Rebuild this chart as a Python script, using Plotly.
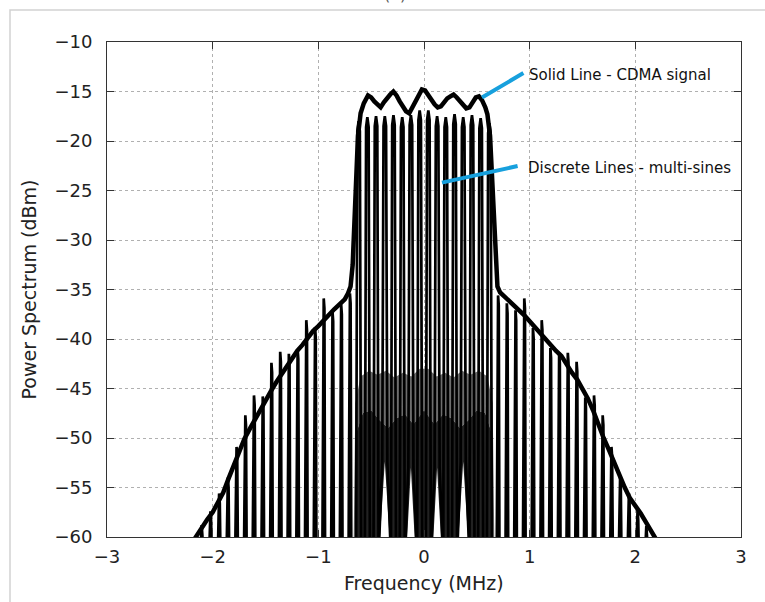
import plotly.graph_objects as go

# ---------------- data ----------------
# Solid line: CDMA signal spectrum
cdma_freq = [-2.25, -2.15, -2.10, -2.05, -2.00, -1.95, -1.90, -1.85, -1.80, -1.75,
             -1.70, -1.65, -1.60, -1.55, -1.50, -1.45, -1.40, -1.35, -1.30, -1.25,
             -1.20, -1.15, -1.10, -1.05, -1.00, -0.95, -0.90, -0.85, -0.80, -0.75,
             -0.72, -0.695, -0.675, -0.66, -0.645, -0.625, -0.60, -0.57, -0.53, -0.50,
             -0.47, -0.44, -0.41, -0.38, -0.35, -0.32, -0.29, -0.26, -0.23, -0.20,
             -0.17, -0.14, -0.11, -0.08, -0.05, -0.02, 0.01, 0.04, 0.07, 0.10,
             0.13, 0.16, 0.19, 0.22, 0.25, 0.28, 0.31, 0.34, 0.37, 0.40,
             0.43, 0.46, 0.49, 0.52, 0.55, 0.58, 0.60, 0.625, 0.645, 0.66,
             0.675, 0.695, 0.72, 0.75, 0.80, 0.85, 0.90, 0.95, 1.00, 1.05,
             1.10, 1.15, 1.20, 1.25, 1.30, 1.35, 1.40, 1.45, 1.50, 1.55,
             1.60, 1.65, 1.70, 1.75, 1.80, 1.85, 1.90, 1.95, 2.00, 2.05,
             2.10, 2.15, 2.20, 2.25]
cdma_dbm = [-61.5, -59.8, -59.1, -58.2, -57.5, -56.6, -55.5, -54.1, -52.7, -51.3,
            -50.1, -49.1, -48.1, -47.2, -46.3, -45.3, -44.4, -43.6, -42.7, -42.0,
            -41.2, -40.6, -39.9, -39.2, -38.7, -38.1, -37.5, -37.0, -36.5, -36.0,
            -35.4, -34.7, -32.5, -29.0, -24.0, -19.5, -17.2, -16.2, -15.4, -15.6,
            -16.0, -16.3, -16.6, -16.1, -15.6, -15.3, -15.0, -15.4, -16.0, -16.5,
            -17.0, -17.2, -16.6, -15.9, -15.3, -14.8, -14.9, -15.4, -15.9, -16.3,
            -16.6, -16.5, -16.1, -15.7, -15.5, -15.3, -15.6, -16.0, -16.3, -16.7,
            -16.6, -16.0, -15.6, -15.5, -15.9, -16.6, -17.3, -19.5, -24.0, -29.0,
            -32.5, -34.7, -35.3, -35.6, -36.0, -36.5, -37.1, -37.6, -38.2, -38.8,
            -39.5, -40.0, -40.6, -41.2, -41.7, -42.6, -43.4, -44.1, -45.0, -46.0,
            -47.2, -48.7, -50.0, -51.2, -52.5, -53.8, -55.0, -56.1, -56.8, -57.6,
            -58.5, -59.3, -60.3, -61.5]

# Discrete lines: multi-sine tones (right half and left half)
tone_freq_right = [0.041, 0.124, 0.206, 0.289, 0.371, 0.454, 0.536, 0.619, 0.701,
                   0.784, 0.866, 0.949, 1.031, 1.114, 1.196, 1.279, 1.361, 1.444,
                   1.526, 1.609, 1.691, 1.774, 1.856, 1.939, 2.021, 2.104, 2.186]
tone_peak_right = [-16.9, -17.5, -17.6, -17.3, -17.6, -17.4, -17.7, -18.2, -35.6,
                   -36.4, -37.1, -35.9, -38.9, -38.1, -40.9, -41.4, -41.4, -42.3,
                   -45.9, -45.7, -47.7, -50.9, -53.9, -55.6, -57.3, -58.9, -60.5]
tone_freq_left = [-0.041, -0.124, -0.206, -0.289, -0.371, -0.454, -0.536, -0.619, -0.701,
                  -0.784, -0.866, -0.949, -1.031, -1.114, -1.196, -1.279, -1.361, -1.444,
                  -1.526, -1.609, -1.691, -1.774, -1.856, -1.939, -2.021, -2.104, -2.186]
tone_peak_left = [-16.9, -17.4, -17.6, -17.4, -17.5, -17.5, -17.6, -18.0, -35.4,
                  -36.5, -37.2, -35.9, -38.8, -38.1, -41.0, -41.5, -41.3, -42.4,
                  -45.8, -45.7, -47.7, -50.9, -54.0, -55.6, -57.4, -58.8, -60.5]

# white notches at the foot of some central tones
notch_freq = [0.371, 0.124, -0.124, -0.371]
notch_top = [-52.4, -53.0, -53.0, -52.4]
notch_halfwidth = [0.045, 0.035, 0.035, 0.045]

# low-level in-band distortion region (two shades)
band_top_freq = [-0.665, -0.65, -0.60, -0.52, -0.44, -0.36, -0.28, -0.20, -0.12, -0.04,
                 0.04, 0.12, 0.20, 0.28, 0.36, 0.44, 0.52, 0.60, 0.65, 0.665]
band_top_dbm = [-60, -46.5, -43.8, -43.2, -43.6, -43.2, -43.9, -43.4, -43.8, -43.0,
                -43.0, -43.8, -43.4, -43.9, -43.2, -43.6, -43.2, -43.8, -46.5, -60]
band_mid_freq = [-0.655, -0.64, -0.58, -0.50, -0.42, -0.34, -0.26, -0.18, -0.10, 0.0,
                 0.10, 0.18, 0.26, 0.34, 0.42, 0.50, 0.58, 0.64, 0.655]
band_mid_dbm = [-60, -49.5, -47.5, -47.2, -48.2, -49.0, -48.0, -47.6, -48.6, -47.2,
                -48.6, -47.6, -48.0, -49.0, -48.2, -47.2, -47.5, -49.5, -60]

x_ticks = [-3, -2, -1, 0, 1, 2, 3]
y_ticks = [-60, -55, -50, -45, -40, -35, -30, -25, -20, -15, -10]

assert len(cdma_freq) == len(cdma_dbm)

AXIS_FLOOR = -60
HIDDEN = -62

# ---------------- build traces ----------------
# tone trace: one continuous line, each tone a narrow spike
freqs = list(reversed(tone_freq_left)) + tone_freq_right
peaks = list(reversed(tone_peak_left)) + tone_peak_right
tx, ty = [], []
for f, p in zip(freqs, peaks):
    floor = HIDDEN
    for nf, nt in zip(notch_freq, notch_top):
        if abs(nf - f) < 1e-6:
            floor = nt
    a = 0.024 if abs(f) < 0.65 else 0.013
    b = a * 0.5
    tx += [f - a, f - b, f, f + b, f + a]
    ty += [floor, p - 1.0, p, p - 1.0, floor]

# upper distortion band polygon
ux = band_top_freq + list(reversed(band_mid_freq))
uy = band_top_dbm + list(reversed(band_mid_dbm))

# lower distortion band polygon with notches
lx = list(band_mid_freq)
ly = list(band_mid_dbm)
for nf, nt, hw in zip(notch_freq, notch_top, notch_halfwidth):
    lx += [nf + hw, nf, nf - hw]
    ly += [AXIS_FLOOR, nt, AXIS_FLOOR]
lx.append(band_mid_freq[0])
ly.append(band_mid_dbm[0])

fig = go.Figure()
fig.add_trace(go.Scatter(x=ux, y=uy, mode="lines", fill="toself",
                         fillcolor="#6e6e6e", line=dict(width=0), hoverinfo="skip"))
fig.add_trace(go.Scatter(x=lx, y=ly, mode="lines", fill="toself",
                         fillcolor="#222222", line=dict(width=0), hoverinfo="skip"))
fig.add_trace(go.Scatter(x=tx, y=ty, mode="lines",
                         line=dict(color="black", width=2.7)))
fig.add_trace(go.Scatter(x=cdma_freq, y=cdma_dbm, mode="lines",
                         line=dict(color="black", width=4.5)))

FONT = "DejaVu Sans"
axis_common = dict(
    showline=True, linecolor="#333333", linewidth=1, mirror="ticks",
    ticks="inside", ticklen=7, tickcolor="#333333", tickwidth=1,
    showgrid=True, gridcolor="#b0b0b0", gridwidth=1, griddash="dot",
    zeroline=False,
    tickfont=dict(family=FONT, size=18, color="#222222"),
)
fig.update_xaxes(range=[-3, 3], tickvals=x_ticks, ticklabelstandoff=3, **axis_common)
fig.update_yaxes(range=[-60, -10], tickvals=y_ticks, ticklabelstandoff=10, **axis_common)

CYAN = "#17a0dd"
fig.add_annotation(x=0.549, y=-15.6, ax=0.955, ay=-13.05, axref="x", ayref="y",
                   xref="x", yref="y", text="", showarrow=True, arrowhead=0,
                   arrowwidth=4, arrowcolor=CYAN)
fig.add_annotation(x=0.17, y=-24.2, ax=0.90, ay=-22.5, axref="x", ayref="y",
                   xref="x", yref="y", text="", showarrow=True, arrowhead=0,
                   arrowwidth=4, arrowcolor=CYAN)
fig.add_annotation(x=0.975, y=-13.3, xref="x", yref="y", xanchor="left", yanchor="middle",
                   text="Solid Line - CDMA signal", showarrow=False,
                   font=dict(family=FONT, size=15, color="#111111"))
fig.add_annotation(x=0.965, y=-22.7, xref="x", yref="y", xanchor="left", yanchor="middle",
                   text="Discrete Lines - multi-sines", showarrow=False,
                   font=dict(family=FONT, size=15, color="#111111"))

# axis titles
fig.add_annotation(x=-0.1246, y=0.5, xref="paper", yref="paper", textangle=-90,
                   xanchor="center", yanchor="middle",
                   text="Power Spectrum (dBm)", showarrow=False,
                   font=dict(family=FONT, size=19, color="#222222"))
fig.add_annotation(x=0.5, y=-0.093, xref="paper", yref="paper",
                   xanchor="center", yanchor="middle",
                   text="Frequency (MHz)", showarrow=False,
                   font=dict(family=FONT, size=19, color="#222222"))
# clipped panel label at top
fig.add_annotation(x=0.454, y=1.095, xref="paper", yref="paper", yanchor="middle",
                   text="(a)", showarrow=False,
                   font=dict(family=FONT, size=16, color="#555555"))

# page frame
fig.add_shape(type="rect", xref="paper", yref="paper",
              x0=-0.153, x1=1.2, y0=-0.2, y1=1.0646,
              line=dict(color="#d2d2d2", width=1.5), layer="below")

fig.update_layout(
    width=765, height=602,
    margin=dict(l=107, r=24, t=42, b=65),
    plot_bgcolor="white", paper_bgcolor="white",
    showlegend=False,
)

fig.write_html("out.html")
